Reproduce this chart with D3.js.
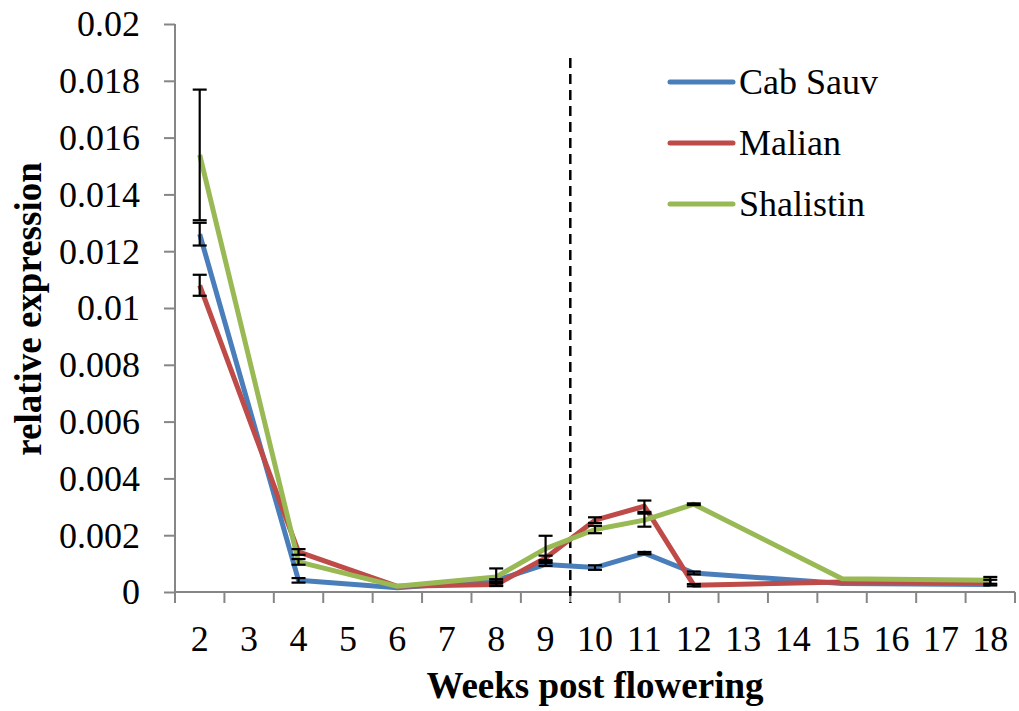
<!DOCTYPE html>
<html>
<head>
<meta charset="utf-8">
<script src="https://cdn.jsdelivr.net/npm/d3@7"></script>
<style>
  body { margin: 0; background: #fff; }
  svg { display: block; font-family: "Liberation Serif", "Times New Roman", serif; }
</style>
</head>
<body>
<svg id="chart" width="1019" height="711"></svg>
<script>
// categories on the x axis (weeks post flowering)
const weeks = [2, 3, 4, 5, 6, 7, 8, 9, 10, 11, 12, 13, 14, 15, 16, 17, 18];
// weeks that were actually sampled
const sampled = [2, 4, 6, 8, 9, 10, 11, 12, 15, 18];

const cabSauv   = [0.0126, 0.00041, 0.00015, 0.00041, 0.00097, 0.00086, 0.00137, 0.00067, 0.0003, 0.00026];
const malian    = [0.0108, 0.00141, 0.0002, 0.00026, 0.0012, 0.00253, 0.00302, 0.00024, 0.00035, 0.00033];
const shalistin = [0.01539, 0.00106, 0.0002, 0.00053, 0.00153, 0.0022, 0.00253, 0.00309, 0.00047, 0.00041];

const cabSauvErr   = [0.0004, 0.00008, 0, 0.00004, 0.00005, 0.00008, 0.00004, 0.00005, 0, 0];
const malianErr    = [0.00037, 0.0001, 0, 0.00005, 0.00008, 0.0001, 0.0002, 0.00004, 0, 0.0001];
const shalistinErr = [0.0023, 0.0001, 0, 0.0003, 0.00045, 0.00013, 0.00023, 0.00003, 0, 0.00012];

const seriesNames = ['Cab Sauv', 'Malian', 'Shalistin'];
const seriesColors = ['#4a7ebb', '#be4b48', '#98b954'];

const yTicks = [0, 0.002, 0.004, 0.006, 0.008, 0.01, 0.012, 0.014, 0.016, 0.018, 0.02];
const yTickLabels = ['0', '0.002', '0.004', '0.006', '0.008', '0.01', '0.012', '0.014', '0.016', '0.018', '0.02'];

const markerWeek = 10; // dashed divider drawn at start of this week

const svg = d3.select('#chart');
const plotLeft = 175, plotRight = 1015, plotTop = 24, plotBottom = 592;
const axisColor = '#868686';

const x = d3.scaleBand().domain(weeks).range([plotLeft, plotRight]).padding(0);
const y = d3.scaleLinear().domain([0, 0.02]).range([plotBottom, plotTop]);
const cx = w => x(w) + x.bandwidth() / 2;

const errs = [cabSauvErr, malianErr, shalistinErr];
const series = [cabSauv, malian, shalistin].map((vals, i) => ({
  name: seriesNames[i],
  color: seriesColors[i],
  points: sampled.map((w, j) => ({ week: w, value: vals[j], err: errs[i][j] }))
}));

// y axis
const yAxis = svg.append('g')
    .attr('transform', `translate(${plotLeft},0)`)
    .call(d3.axisLeft(y)
      .tickValues(yTicks)
      .tickFormat((d, i) => yTickLabels[i])
      .tickSize(11)
      .tickPadding(24));
yAxis.select('.domain').attr('stroke', axisColor).attr('stroke-width', 2).attr('d', `M0,${plotTop}V${plotBottom}`);
yAxis.selectAll('.tick line').attr('stroke', axisColor).attr('stroke-width', 2);
yAxis.selectAll('.tick text')
    .attr('font-size', 36)
    .attr('fill', '#000')
    .attr('font-family', '"Liberation Serif", serif')
    .attr('dy', '0.33em');

// x axis: ticks on category boundaries, labels at centres
const xg = svg.append('g');
xg.append('line')
    .attr('x1', plotLeft).attr('x2', plotRight)
    .attr('y1', plotBottom).attr('y2', plotBottom)
    .attr('stroke', axisColor).attr('stroke-width', 2);
xg.selectAll('.xtick')
  .data(weeks.concat(['end']))
  .join('line')
    .attr('class', 'xtick')
    .attr('x1', d => d === 'end' ? plotRight : x(d))
    .attr('x2', d => d === 'end' ? plotRight : x(d))
    .attr('y1', plotBottom).attr('y2', plotBottom + 11)
    .attr('stroke', axisColor).attr('stroke-width', 2);
xg.selectAll('.xlabel')
  .data(weeks)
  .join('text')
    .attr('class', 'xlabel')
    .attr('x', d => cx(d))
    .attr('y', 651)
    .attr('text-anchor', 'middle')
    .attr('font-size', 36)
    .text(d => d);

// dashed divider
svg.append('line')
    .attr('x1', x(markerWeek)).attr('x2', x(markerWeek))
    .attr('y1', 58).attr('y2', plotBottom + 11)
    .attr('stroke', '#000')
    .attr('stroke-width', 2.5)
    .attr('stroke-dasharray', '10,6');

// lines
const line = d3.line().x(d => cx(d.week)).y(d => y(d.value));
svg.selectAll('.series')
  .data(series)
  .join('path')
    .attr('class', 'series')
    .attr('fill', 'none')
    .attr('stroke', d => d.color)
    .attr('stroke-width', 5)
    .attr('stroke-linejoin', 'round')
    .attr('d', d => line(d.points));

// error bars
const errPts = series.flatMap(s => s.points.filter(p => p.err > 0));
const eg = svg.append('g').attr('stroke', '#000').attr('stroke-width', 2.2);
errPts.forEach(p => {
  const px = cx(p.week);
  const y0 = y(p.value - p.err), y1 = y(p.value + p.err);
  eg.append('line').attr('x1', px).attr('x2', px).attr('y1', y0).attr('y2', y1);
  eg.append('line').attr('x1', px - 7).attr('x2', px + 7).attr('y1', y0).attr('y2', y0);
  eg.append('line').attr('x1', px - 7).attr('x2', px + 7).attr('y1', y1).attr('y2', y1);
});

// legend
const legend = svg.append('g')
  .selectAll('g')
  .data(series)
  .join('g')
    .attr('transform', (d, i) => `translate(670,${82 + i * 61})`);
legend.append('line')
    .attr('x1', 0).attr('x2', 63)
    .attr('stroke', d => d.color)
    .attr('stroke-width', 5)
    .attr('stroke-linecap', 'round');
legend.append('text')
    .attr('x', 69)
    .attr('dy', '0.33em')
    .attr('font-size', 36)
    .text(d => d.name);

// axis titles
svg.append('text')
    .attr('x', 595).attr('y', 698)
    .attr('text-anchor', 'middle')
    .attr('font-size', 37)
    .attr('font-weight', 'bold')
    .text('Weeks post flowering');
svg.append('text')
    .attr('transform', 'translate(41,309) rotate(-90)')
    .attr('text-anchor', 'middle')
    .attr('font-size', 37)
    .attr('font-weight', 'bold')
    .text('relative expression');
</script>
</body>
</html>
